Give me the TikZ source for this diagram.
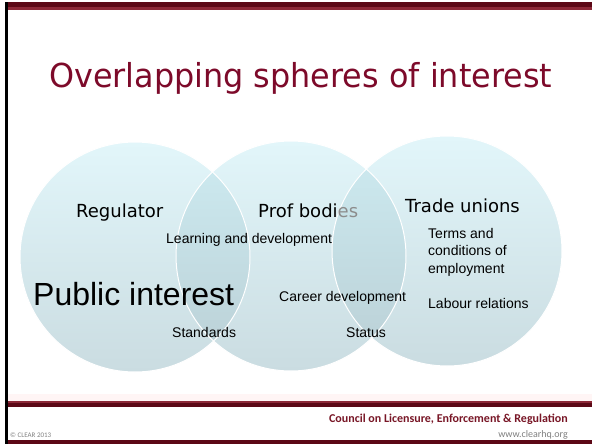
\documentclass[tikz,border=0pt]{standalone}
\usepackage{fontspec}
\setmainfont{Liberation Sans}
\newfontfamily\tahfont{DejaVu Sans}
\newfontfamily\calfont{Carlito}
\definecolor{titlered}{RGB}{125,10,42}
\definecolor{footred}{RGB}{120,22,38}
\definecolor{bardark}{RGB}{92,8,22}
\definecolor{barmid}{RGB}{140,40,55}
\definecolor{sgltop}{RGB}{226,246,250}
\definecolor{sglbot}{RGB}{202,220,225}
\definecolor{ovltop}{RGB}{206,236,242}
\definecolor{ovlbot}{RGB}{186,207,213}
\definecolor{fadegray}{RGB}{140,140,140}
\begin{document}
\begin{tikzpicture}[x=1pt,y=-1pt]
\tikzset{
  lbl/.style={font=\tahfont\fontsize{18}{20}\selectfont, inner sep=0, anchor=base west},
  sm/.style={font=\fontsize{14}{17}\selectfont, inner sep=0, anchor=base west},
  sgl/.style={top color=sgltop, bottom color=sglbot},
  ovl/.style={top color=ovltop, bottom color=ovlbot},
  rim/.style={draw=white, line width=1pt}
}
\useasboundingbox (0,0) rectangle (592,444);
\fill[white] (0,0) rectangle (592,444);
% header bars
\fill[bardark] (5,2) rectangle (592,7);
\fill[barmid] (5,7) rectangle (592,10);
% footer
\fill[red!4] (5,394) rectangle (592,401);
\fill[barmid] (5,401) rectangle (592,403);
\fill[bardark] (5,403) rectangle (592,407);
\fill[bardark] (5,440) rectangle (592,444);
% left border
\fill[black] (5,2) rectangle (8,444);
% circles
\coordinate (c1) at (135,257);
\coordinate (c2) at (291,256);
\coordinate (c3) at (447,251);
\shade[sgl] (c1) circle (115);
\shade[sgl] (c2) circle (115);
\shade[sgl] (c3) circle (115);
\begin{scope}
  \clip (c1) circle (115);
  \shade[ovl] (c2) circle (115);
\end{scope}
\begin{scope}
  \clip (c2) circle (115);
  \shade[ovl] (c3) circle (115);
\end{scope}
\draw[rim] (c1) circle (115);
\draw[rim] (c2) circle (115);
\draw[rim] (c3) circle (115);
% title
\node[font=\tahfont\fontsize{33}{36}\selectfont, text=titlered, anchor=base west, inner sep=0] (title) at (49,88) {\scalebox{0.965}[1]{Overlapping spheres of interest}};
% labels
\node[lbl] (reg) at (76,217) {Regulator};
\node[lbl] (prof) at (258,217) {Prof bodi\textcolor{fadegray}{es}};
\node[lbl] (tu) at (405,212) {Trade unions};
\node[sm] (ld) at (166,243) {Learning and development};
\node[font=\fontsize{32}{34}\selectfont, inner sep=0, anchor=base west] (pi) at (33,305) {Public interest};
\node[sm] (cd) at (279,301) {Career development};
\node[sm] (std) at (172,337) {Standards};
\node[sm] (sts) at (346,337) {Status};
\node[sm] (tc1) at (428,238) {Terms and};
\node[sm] (tc2) at (428,255.5) {conditions of};
\node[sm] (tc3) at (428,273) {employment};
\node[sm] (lr) at (428,308) {Labour relations};
% footer text
\node[font=\calfont\bfseries\fontsize{12}{13}\selectfont, text=footred, anchor=base east, inner sep=0] (council) at (568,422) {Council on Licensure, Enforcement \& Regulation};
\node[font=\calfont\fontsize{10}{12}\selectfont, text=gray, anchor=base east, inner sep=0] (www) at (568,437) {www.clearhq.org};
\node[font=\calfont\fontsize{7}{8}\selectfont, text=gray, anchor=base west, inner sep=0] (copy) at (10,437) {\textcopyright{} CLEAR 2013};
\end{tikzpicture}
\end{document}
